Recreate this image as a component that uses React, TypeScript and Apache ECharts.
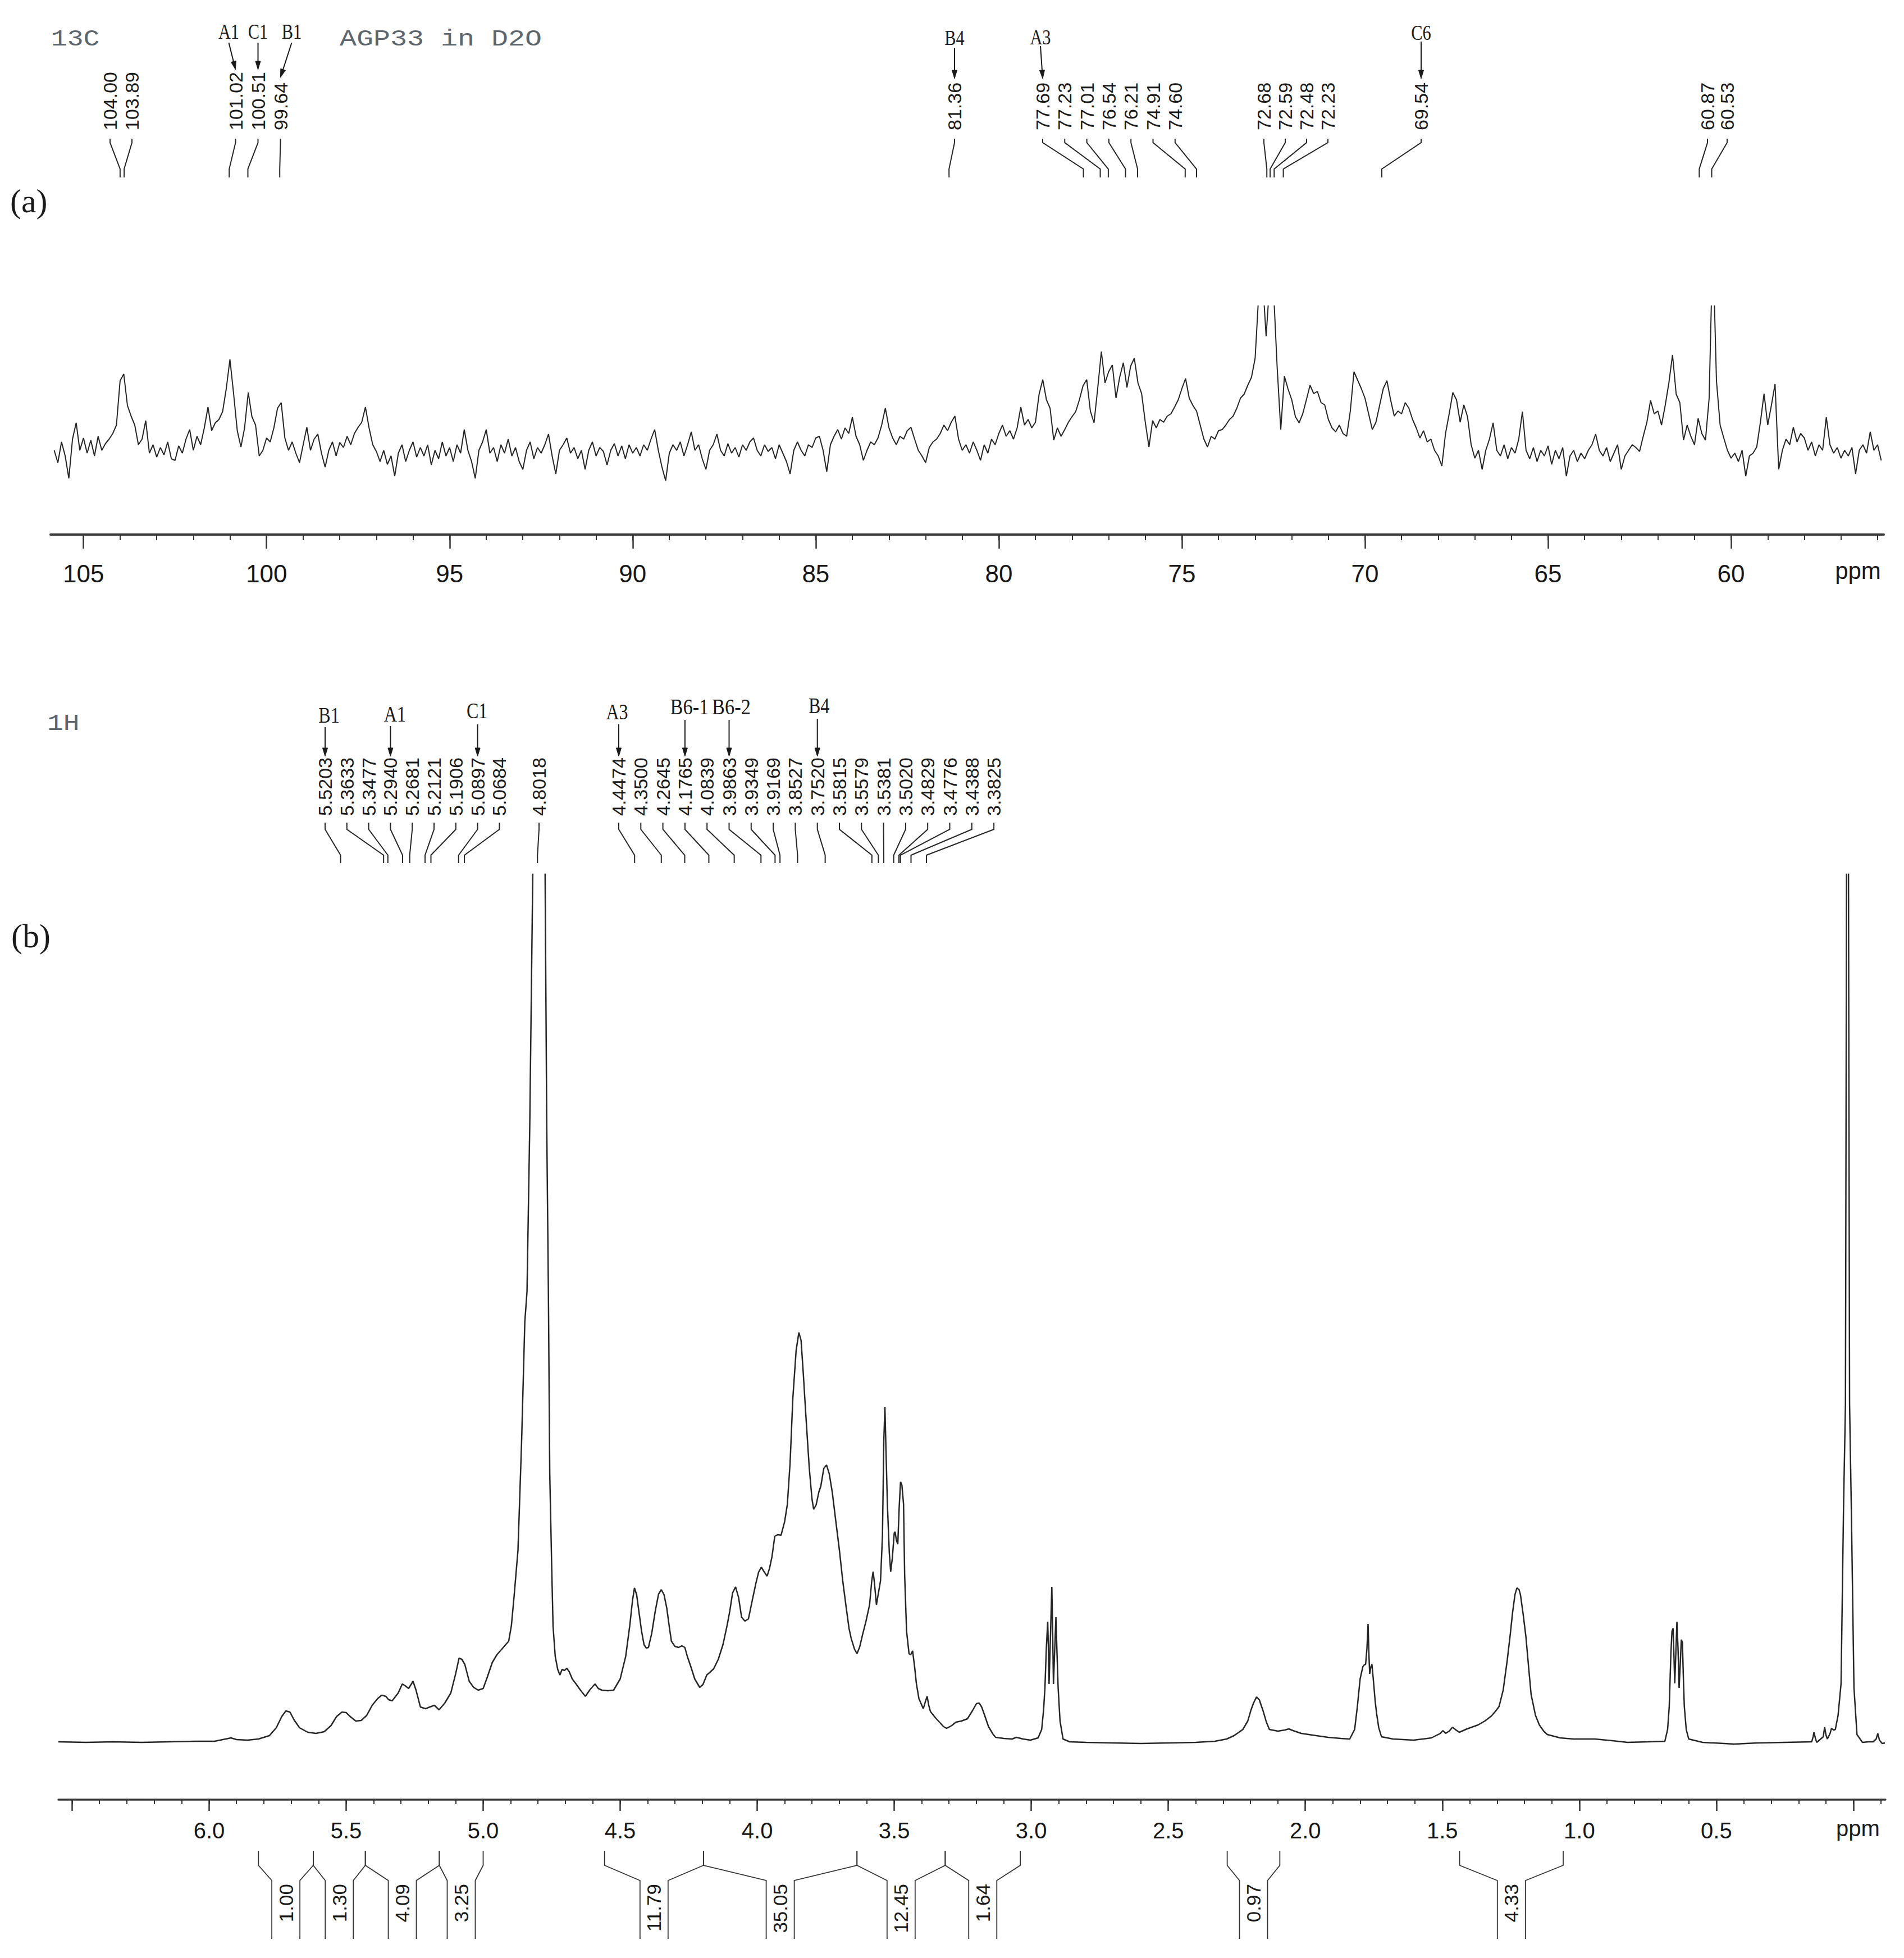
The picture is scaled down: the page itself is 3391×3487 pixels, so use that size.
import React, { useEffect, useRef } from "react";
import * as echarts from "echarts";

// ================= DATA =================
// 13C spectrum (AGP33 in D2O): intensities, one sample per 0.1 ppm,
// starting at 105.8 ppm and running down to 55.9 ppm (axis units: px above the axis line).
const C13_START_PPM = 105.8;
const C13_STEP_PPM = 0.1;
const C13_INTENSITY = [
  150, 128, 165, 140, 100, 170, 199, 150, 172, 145,
  168, 140, 175, 150, 162, 170, 180, 195, 274, 286,
  230, 211, 195, 160, 170, 203, 145, 160, 138, 155,
  142, 165, 135, 132, 158, 145, 170, 187, 150, 175,
  160, 190, 227, 185, 199, 205, 219, 260, 312, 251,
  185, 156, 190, 253, 210, 195, 140, 150, 172, 165,
  190, 225, 235, 172, 150, 165, 145, 128, 160, 191,
  150, 170, 179, 145, 120, 150, 165, 140, 164, 155,
  175, 160, 180, 191, 200, 227, 190, 160, 148, 130,
  150, 125, 140, 104, 145, 160, 130, 150, 165, 138,
  155, 140, 160, 124, 150, 135, 165, 140, 155, 130,
  160, 145, 187, 150, 130, 100, 150, 165, 187, 145,
  155, 130, 160, 145, 170, 140, 155, 130, 116, 150,
  165, 135, 155, 145, 160, 179, 140, 108, 150, 160,
  172, 145, 155, 135, 150, 116, 150, 165, 140, 155,
  148, 124, 150, 162, 140, 158, 135, 160, 145, 155,
  140, 160, 150, 170, 187, 150, 120, 96, 145, 160,
  150, 165, 140, 160, 183, 150, 160, 135, 116, 150,
  160, 179, 150, 140, 162, 145, 155, 138, 160, 150,
  165, 172, 150, 140, 160, 148, 155, 135, 160, 145,
  130, 108, 150, 165, 150, 140, 160, 155, 172, 175,
  150, 112, 160, 175, 187, 170, 190, 180, 209, 175,
  160, 132, 150, 165, 160, 172, 195, 225, 190, 172,
  160, 175, 170, 185, 191, 170, 150, 140, 128, 155,
  165, 170, 180, 195, 185, 200, 211, 170, 150, 160,
  145, 165, 150, 132, 160, 145, 170, 160, 180, 195,
  175, 185, 170, 190, 227, 195, 205, 190, 200, 250,
  276, 240, 225, 168, 190, 175, 187, 200, 210, 219,
  240, 265, 276, 220, 199, 260, 326, 270, 290, 302,
  243, 280, 306, 262, 300, 314, 270, 251, 200, 156,
  203, 190, 205, 200, 211, 215, 227, 240, 260, 278,
  243, 230, 220, 195, 170, 156, 175, 170, 185, 187,
  195, 205, 211, 225, 243, 250, 266, 280, 314, 430,
  460, 353, 450, 440, 300, 187, 282, 259, 240, 210,
  199, 215, 240, 266, 251, 255, 235, 231, 205, 190,
  183, 195, 180, 175, 220, 290, 275, 260, 243, 215,
  187, 200, 230, 260, 274, 240, 211, 220, 215, 235,
  225, 205, 190, 172, 185, 165, 170, 150, 140, 122,
  180, 215, 253, 240, 200, 231, 210, 160, 136, 150,
  116, 150, 170, 199, 150, 140, 160, 135, 155, 145,
  170, 219, 150, 135, 155, 130, 150, 140, 158, 125,
  150, 135, 155, 104, 140, 150, 130, 145, 135, 150,
  160, 179, 150, 140, 155, 130, 145, 160, 116, 140,
  150, 160, 155, 148, 175, 200, 239, 215, 220, 195,
  230, 270, 320, 250, 235, 168, 195, 175, 160, 207,
  180, 168, 243, 520, 274, 195, 172, 150, 136, 145,
  130, 150, 104, 140, 145, 156, 200, 251, 195, 230,
  268, 116, 150, 170, 160, 191, 165, 180, 172, 150,
  165, 140, 160, 150, 209, 160, 145, 155, 136, 150,
  140, 155, 108, 150, 160, 145, 183, 150, 160, 132,
];

const C13_PEAKS = [104.0, 103.89, 101.02, 100.51, 99.64, 81.36, 77.69, 77.23, 77.01, 76.54, 76.21, 74.91, 74.6, 72.68, 72.59, 72.48, 72.23, 69.54, 60.87, 60.53];
const C13_ASSIGN_NAMES = ["A1", "C1", "B1", "B4", "A3", "C6"];
const C13_ASSIGN_PEAKS = [101.02, 100.51, 99.64, 81.36, 77.69, 69.54];
const C13_TICK_LABELS = [60, 65, 70, 75, 80, 85, 90, 95, 100, 105];

// 1H spectrum: [ppm, intensity] vertices
const H1_POINTS: [number, number][] = [
  [6.55, 103], [6.45, 102], [6.35, 103], [6.25, 102], [6.15, 103], [6.05, 104], [5.98, 104], [5.94, 108], [5.92, 110], [5.9, 107],
  [5.86, 106], [5.82, 108], [5.78, 114], [5.755, 128], [5.735, 148], [5.72, 158], [5.705, 156], [5.69, 142], [5.67, 128], [5.64, 120],
  [5.61, 118], [5.58, 121], [5.555, 132], [5.535, 148], [5.515, 156], [5.5, 155], [5.485, 148], [5.465, 140], [5.445, 141], [5.425, 150],
  [5.405, 168], [5.385, 180], [5.37, 186], [5.355, 184], [5.345, 178], [5.332, 176], [5.31, 190], [5.295, 206], [5.285, 203], [5.272, 198],
  [5.262, 206], [5.256, 211], [5.245, 195], [5.229, 165], [5.21, 162], [5.195, 165], [5.178, 168], [5.161, 160], [5.14, 172], [5.118, 190],
  [5.1, 225], [5.088, 252], [5.078, 250], [5.067, 241], [5.051, 211], [5.035, 200], [5.018, 195], [5.0, 198], [4.985, 218], [4.967, 244],
  [4.95, 258], [4.932, 268], [4.918, 276], [4.907, 282], [4.897, 310], [4.887, 363], [4.873, 444], [4.86, 634], [4.848, 851], [4.84, 905],
  [4.83, 1200], [4.819, 1648], [4.81, 2400], [4.8, 3000], [4.79, 2400], [4.774, 1648], [4.768, 1200], [4.762, 905], [4.757, 580], [4.75, 417],
  [4.745, 309], [4.737, 255], [4.728, 232], [4.72, 222], [4.712, 232], [4.703, 230], [4.695, 234], [4.686, 228], [4.675, 215], [4.661, 206],
  [4.645, 195], [4.627, 184], [4.61, 196], [4.592, 206], [4.58, 198], [4.567, 195], [4.545, 194], [4.524, 195], [4.5, 215], [4.48, 255],
  [4.465, 310], [4.455, 355], [4.448, 377], [4.44, 365], [4.432, 336], [4.422, 300], [4.413, 276], [4.405, 270], [4.397, 271], [4.385, 296],
  [4.372, 336], [4.36, 366], [4.35, 374], [4.34, 365], [4.33, 341], [4.32, 305], [4.313, 282], [4.3, 273], [4.287, 271], [4.275, 274],
  [4.264, 271], [4.255, 255], [4.243, 238], [4.228, 215], [4.21, 200], [4.198, 205], [4.184, 222], [4.17, 228], [4.159, 233], [4.142, 250],
  [4.125, 276], [4.11, 310], [4.1, 336], [4.09, 368], [4.079, 379], [4.068, 360], [4.057, 325], [4.045, 318], [4.032, 322], [4.018, 355],
  [4.005, 385], [3.995, 405], [3.985, 414], [3.975, 406], [3.964, 398], [3.955, 412], [3.946, 433], [3.936, 469], [3.925, 472], [3.913, 471],
  [3.9, 495], [3.89, 526], [3.88, 600], [3.87, 715], [3.858, 800], [3.848, 832], [3.84, 818], [3.832, 760], [3.823, 688], [3.81, 590],
  [3.8, 535], [3.794, 517], [3.785, 525], [3.775, 548], [3.768, 558], [3.757, 590], [3.747, 596], [3.737, 580], [3.726, 547], [3.713, 495],
  [3.7, 444], [3.688, 390], [3.675, 341], [3.665, 305], [3.657, 287], [3.645, 268], [3.636, 260], [3.626, 272], [3.616, 293], [3.603, 318],
  [3.59, 347], [3.582, 390], [3.577, 406], [3.572, 385], [3.565, 347], [3.557, 370], [3.55, 390], [3.543, 470], [3.538, 640], [3.534, 699],
  [3.53, 620], [3.525, 526], [3.518, 440], [3.513, 406], [3.507, 430], [3.5, 475], [3.497, 477], [3.492, 462], [3.487, 455], [3.482, 520],
  [3.477, 566], [3.472, 560], [3.466, 526], [3.462, 400], [3.455, 300], [3.446, 260], [3.44, 258], [3.433, 265], [3.426, 238], [3.419, 206],
  [3.41, 180], [3.394, 162], [3.386, 175], [3.38, 184], [3.374, 168], [3.368, 157], [3.35, 146], [3.335, 138], [3.32, 130], [3.309, 127],
  [3.29, 132], [3.275, 138], [3.255, 140], [3.233, 144], [3.215, 158], [3.2, 171], [3.19, 172], [3.181, 165], [3.17, 150], [3.156, 130],
  [3.14, 117], [3.13, 111], [3.1, 109], [3.07, 108], [3.054, 111], [3.03, 108], [3.003, 106], [2.975, 110], [2.962, 125], [2.955, 160],
  [2.95, 200], [2.945, 270], [2.94, 317], [2.937, 260], [2.935, 206], [2.93, 290], [2.925, 379], [2.922, 300], [2.919, 206], [2.915, 260],
  [2.91, 325], [2.906, 260], [2.902, 200], [2.895, 140], [2.884, 108], [2.86, 103], [2.8, 102], [2.7, 101], [2.6, 100], [2.5, 101],
  [2.4, 102], [2.33, 104], [2.287, 108], [2.26, 114], [2.228, 125], [2.21, 140], [2.198, 160], [2.189, 172], [2.178, 183], [2.168, 178],
  [2.154, 158], [2.142, 138], [2.131, 125], [2.1, 122], [2.075, 124], [2.06, 126], [2.045, 123], [2.015, 118], [1.96, 114], [1.917, 111],
  [1.87, 109], [1.838, 108], [1.82, 125], [1.81, 166], [1.8, 215], [1.79, 237], [1.785, 240], [1.78, 241], [1.775, 270], [1.771, 313],
  [1.768, 260], [1.765, 224], [1.761, 236], [1.757, 241], [1.752, 215], [1.745, 175], [1.74, 154], [1.732, 128], [1.722, 112], [1.68, 108],
  [1.605, 106], [1.54, 110], [1.507, 118], [1.498, 123], [1.488, 118], [1.475, 122], [1.463, 129], [1.45, 124], [1.438, 120], [1.41, 126],
  [1.37, 133], [1.345, 140], [1.321, 149], [1.305, 158], [1.293, 166], [1.278, 195], [1.263, 249], [1.252, 295], [1.244, 332], [1.235, 365],
  [1.228, 377], [1.22, 374], [1.215, 365], [1.205, 330], [1.195, 290], [1.185, 235], [1.176, 187], [1.16, 150], [1.146, 133], [1.13, 122],
  [1.117, 116], [1.07, 110], [1.02, 108], [0.943, 108], [0.88, 105], [0.824, 102], [0.75, 103], [0.688, 104], [0.678, 125], [0.672, 166],
  [0.666, 260], [0.662, 300], [0.658, 305], [0.655, 260], [0.652, 207], [0.648, 260], [0.644, 317], [0.64, 270], [0.636, 199], [0.632, 240],
  [0.628, 285], [0.624, 280], [0.62, 210], [0.617, 166], [0.61, 125], [0.601, 108], [0.55, 102], [0.435, 99], [0.35, 101], [0.25, 102],
  [0.152, 103], [0.147, 112], [0.144, 120], [0.139, 110], [0.134, 102], [0.11, 112], [0.105, 129], [0.1, 115], [0.095, 108], [0.085, 118],
  [0.08, 127], [0.072, 124], [0.066, 125], [0.056, 150], [0.045, 207], [0.036, 520], [0.029, 705], [0.025, 1648], [0.0215, 2600], [0.018, 1648],
  [0.014, 705], [0.007, 500], [-0.002, 200], [-0.013, 116], [-0.033, 102], [-0.055, 103], [-0.072, 103], [-0.083, 108], [-0.089, 118], [-0.095, 106],
  [-0.105, 100], [-0.115, 101],
];

const H1_PEAKS = [5.5203, 5.3633, 5.3477, 5.294, 5.2681, 5.2121, 5.1906, 5.0897, 5.0684, 4.8018, 4.4474, 4.35, 4.2645, 4.1765, 4.0839, 3.9863, 3.9349, 3.9169, 3.8527, 3.752, 3.5815, 3.5579, 3.5381, 3.502, 3.4829, 3.4776, 3.4388, 3.3825];
const H1_ASSIGN_NAMES = ["B1", "A1", "C1", "A3", "B6-1", "B6-2", "B4"];
const H1_ASSIGN_PEAKS = [5.5203, 5.294, 5.0897, 4.4474, 4.1765, 3.9863, 3.752];
const H1_TICK_LABELS = [0.5, 1.0, 1.5, 2.0, 2.5, 3.0, 3.5, 4.0, 4.5, 5.0, 5.5, 6.0];
const H1_MAJOR_TICKS = [0, 0.5, 1.0, 1.5, 2.0, 2.5, 3.0, 3.5, 4.0, 4.5, 5.0, 5.5, 6.0, 6.5];

// integrals
const INT_FROM = [5.82, 5.62, 5.43, 5.16, 4.557, 4.196, 3.636, 3.314, 2.285, 1.437];
const INT_TO = [5.62, 5.43, 5.16, 5.0, 4.196, 3.636, 3.314, 3.04, 2.093, 1.059];
const INT_VALUES = ["1.00", "1.30", "4.09", "3.25", "11.79", "35.05", "12.45", "1.64", "0.97", "4.33"];

// ================= LAYOUT =================
const W = 3391;
const H = 3487;
const G13 = { left: 90, top: 545, width: 3265, height: 407, xMin: 55.83, xMax: 105.9, yMax: 407 };
const G1H = { left: 104, top: 1557, width: 3254, height: 1648, xMin: -0.117, xMax: 6.55, yMax: 1648 };

// label slot groups: [first slot x, step, count]
const C13_SLOT_GROUPS: [number, number, number][] = [[196, 39, 2], [419.5, 40, 3], [1700, 0, 1], [1857, 39.3, 7], [2251, 38, 4], [2531, 0, 1], [3041, 35, 2]];
const H1_SLOT_GROUPS: [number, number, number][] = [[579, 38.8, 9], [960, 0, 1], [1102, 39.3, 18]];
const C13_LEAD = { textBottom: 232, top: 247, k1: 254, k2: 301, bottom: 316 };
const H1_LEAD = { textBottom: 1453, top: 1465, k1: 1477, k2: 1523, bottom: 1537 };
// assignment labels: dx from slot, text centre y, arrow start y, arrow tip y
const C13_ASSIGN_LAYOUT = [[-12, 56, 76, 124], [0, 56, 76, 124], [20, 56, 76, 138], [0, 67, 86, 140], [-4, 66, 82, 140], [0, 58, 74, 140]];
const H1_ASSIGN_LAYOUT = [[7, 1274, 1295, 1347], [8, 1272, 1293, 1347], [-1, 1266, 1290, 1347], [-3, 1268, 1290, 1347], [8, 1259, 1282, 1347], [4, 1259, 1282, 1347], [3, 1257, 1280, 1347]];
const INT_Y = { top: 3296, k1: 3322, k2: 3349, bottom: 3453, textTop: 3355, half: 25 };

const FONT_SANS = "'Liberation Sans', Arial, Helvetica, sans-serif";
const FONT_SERIF = "'Liberation Serif', 'Times New Roman', serif";
const FONT_MONO = "'Liberation Mono', 'Courier New', monospace";
const INK = "#1a1a1a";
const LINE = "#262626";
const GREY_TEXT = "#5c666c";

function expandSlots(groups: [number, number, number][]) {
  const out: number[] = [];
  groups.forEach(([s, st, n]) => {
    for (let i = 0; i < n; i++) out.push(s + i * st);
  });
  return out;
}

function txt(x: number, y: number, s: string, font: string, o: any = {}) {
  const align = o.align || "left";
  const valign = o.valign || "middle";
  return {
    type: "text",
    x,
    y,
    rotation: o.rotation || 0,
    scaleX: o.scaleX ?? 1,
    scaleY: o.scaleY ?? 1,
    z: 20,
    silent: true,
    style: {
      text: s,
      x: 0,
      y: 0,
      font,
      fill: o.fill || INK,
      textAlign: align,
      textVerticalAlign: valign,
      align,
      verticalAlign: valign,
    },
  };
}

function poly(points: number[][], width = 2, color = LINE) {
  return {
    type: "polyline",
    z: 15,
    silent: true,
    shape: { points },
    style: { stroke: color, lineWidth: width, fill: "none" },
  };
}

function arrow(x1: number, y1: number, x2: number, y2: number) {
  const dx = x2 - x1;
  const dy = y2 - y1;
  const len = Math.sqrt(dx * dx + dy * dy) || 1;
  const ux = dx / len;
  const uy = dy / len;
  const bx = x2 - ux * 15;
  const by = y2 - uy * 15;
  const nx = -uy * 4.5;
  const ny = ux * 4.5;
  return [
    { type: "line", z: 15, silent: true, shape: { x1, y1, x2: bx, y2: by }, style: { stroke: INK, lineWidth: 2 } },
    {
      type: "polygon",
      z: 15,
      silent: true,
      shape: { points: [[x2, y2], [bx + nx, by + ny], [bx - nx, by - ny]] },
      style: { fill: INK, stroke: INK, lineWidth: 1 },
    },
  ];
}

export default function App() {
  const ref = useRef<HTMLDivElement>(null);

  useEffect(() => {
    document.body.style.margin = "0";
    document.body.style.background = "#ffffff";
    if (!ref.current) return;
    const chart = echarts.init(ref.current, null, { renderer: "svg" });

    const c13Data = C13_INTENSITY.map((v, i) => [Number((C13_START_PPM - i * C13_STEP_PPM).toFixed(2)), v]);
    const c13Minor: number[] = [];
    for (let p = 56; p <= 105; p++) c13Minor.push(p);
    const h1Minor: number[] = [];
    for (let i = -1; i <= 65; i++) h1Minor.push(Number((i / 10).toFixed(1)));

    const option: any = {
      animation: false,
      backgroundColor: "#ffffff",
      grid: [
        { left: G13.left, top: G13.top, width: G13.width, height: G13.height, containLabel: false, outerBoundsMode: "none" },
        { left: G1H.left, top: G1H.top, width: G1H.width, height: G1H.height, containLabel: false, outerBoundsMode: "none" },
      ],
      xAxis: [
        {
          gridIndex: 0,
          type: "value",
          min: G13.xMin,
          max: G13.xMax,
          inverse: true,
          position: "bottom",
          axisLine: { show: true, lineStyle: { color: "#3a3a3a", width: 4 } },
          axisTick: { show: true, customValues: C13_TICK_LABELS, length: 25, lineStyle: { color: "#333", width: 2.5 } },
          axisLabel: {
            show: true,
            customValues: C13_TICK_LABELS,
            formatter: (v: number) => String(Math.round(v)),
            margin: 47,
            fontSize: 44,
            fontFamily: FONT_SANS,
            color: "#161616",
          },
          splitLine: { show: false },
        },
        {
          gridIndex: 0,
          type: "value",
          min: G13.xMin,
          max: G13.xMax,
          inverse: true,
          position: "bottom",
          axisLine: { show: false },
          axisTick: { show: true, customValues: c13Minor, length: 10, lineStyle: { color: "#333", width: 2 } },
          axisLabel: { show: false, customValues: c13Minor },
          splitLine: { show: false },
        },
        {
          gridIndex: 1,
          type: "value",
          min: G1H.xMin,
          max: G1H.xMax,
          inverse: true,
          position: "bottom",
          axisLine: { show: true, lineStyle: { color: "#3a3a3a", width: 3.5 } },
          axisTick: { show: true, customValues: H1_MAJOR_TICKS, length: 20, lineStyle: { color: "#333", width: 2.5 } },
          axisLabel: {
            show: true,
            customValues: H1_TICK_LABELS,
            formatter: (v: number) => v.toFixed(1),
            margin: 35,
            fontSize: 40,
            fontFamily: FONT_SANS,
            color: "#161616",
          },
          splitLine: { show: false },
        },
        {
          gridIndex: 1,
          type: "value",
          min: G1H.xMin,
          max: G1H.xMax,
          inverse: true,
          position: "bottom",
          axisLine: { show: false },
          axisTick: { show: true, customValues: h1Minor, length: 8, lineStyle: { color: "#333", width: 2 } },
          axisLabel: { show: false, customValues: h1Minor },
          splitLine: { show: false },
        },
      ],
      yAxis: [
        { gridIndex: 0, type: "value", min: 0, max: G13.yMax, show: false },
        { gridIndex: 1, type: "value", min: 0, max: G1H.yMax, show: false },
      ],
      series: [
        {
          type: "line",
          name: "13C",
          xAxisIndex: 0,
          yAxisIndex: 0,
          data: c13Data,
          showSymbol: false,
          symbol: "none",
          clip: true,
          lineStyle: { color: LINE, width: 2 },
        },
        {
          type: "line",
          name: "1H",
          xAxisIndex: 2,
          yAxisIndex: 1,
          data: H1_POINTS,
          showSymbol: false,
          symbol: "none",
          clip: true,
          lineStyle: { color: LINE, width: 2.5 },
        },
      ],
    };
    chart.setOption(option);

    const px13 = (v: number) => chart.convertToPixel({ xAxisIndex: 0 }, v) as unknown as number;
    const px1H = (v: number) => chart.convertToPixel({ xAxisIndex: 2 }, v) as unknown as number;

    const els: any[] = [];

    // headings
    els.push(txt(91, 70, "13C", `40px ${FONT_MONO}`, { scaleX: 1.2, fill: GREY_TEXT }));
    els.push(txt(605, 70, "AGP33 in D2O", `40px ${FONT_MONO}`, { scaleX: 1.25, fill: GREY_TEXT }));
    els.push(txt(84, 1289, "1H", `40px ${FONT_MONO}`, { scaleX: 1.2, fill: GREY_TEXT }));
    els.push(txt(18, 358, "(a)", `60px ${FONT_SERIF}`));
    els.push(txt(20, 1667, "(b)", `60px ${FONT_SERIF}`));
    els.push(txt(3309, 1016, "ppm", `42px ${FONT_SANS}`, { align: "center" }));
    els.push(txt(3309, 3256, "ppm", `40px ${FONT_SANS}`, { align: "center" }));

    // 13C peak labels and leaders
    const s13 = expandSlots(C13_SLOT_GROUPS);
    C13_PEAKS.forEach((p, i) => {
      const sx = s13[i];
      const pxp = px13(p);
      els.push(txt(sx, C13_LEAD.textBottom, p.toFixed(2), `34px ${FONT_SANS}`, { rotation: Math.PI / 2 }));
      els.push(poly([[sx, C13_LEAD.top], [sx, C13_LEAD.k1], [pxp, C13_LEAD.k2], [pxp, C13_LEAD.bottom]]));
    });
    C13_ASSIGN_NAMES.forEach((name, k) => {
      const idx = C13_PEAKS.indexOf(C13_ASSIGN_PEAKS[k]);
      const sx = s13[idx];
      const [dx, ty, ay, tip] = C13_ASSIGN_LAYOUT[k];
      els.push(txt(sx + dx, ty, name, `38px ${FONT_SERIF}`, { align: "center", scaleX: 0.8 }));
      els.push(...arrow(sx + dx, ay, sx, tip));
    });

    // 1H peak labels and leaders
    const s1 = expandSlots(H1_SLOT_GROUPS);
    H1_PEAKS.forEach((p, i) => {
      const sx = s1[i];
      const pxp = px1H(p);
      els.push(txt(sx, H1_LEAD.textBottom, p.toFixed(4), `34px ${FONT_SANS}`, { rotation: Math.PI / 2 }));
      els.push(poly([[sx, H1_LEAD.top], [sx, H1_LEAD.k1], [pxp, H1_LEAD.k2], [pxp, H1_LEAD.bottom]]));
    });
    H1_ASSIGN_NAMES.forEach((name, k) => {
      const idx = H1_PEAKS.indexOf(H1_ASSIGN_PEAKS[k]);
      const sx = s1[idx];
      const [dx, ty, ay, tip] = H1_ASSIGN_LAYOUT[k];
      const sc = name.length > 2 ? 0.86 : 0.8;
      els.push(txt(sx + dx, ty, name, `40px ${FONT_SERIF}`, { align: "center", scaleX: sc }));
      els.push(...arrow(sx, ay, sx, tip));
    });

    // integrals
    INT_FROM.forEach((from, k) => {
      const xa = px1H(from);
      const xb = px1H(INT_TO[k]);
      const c = (xa + xb) / 2;
      const la = c - INT_Y.half;
      const lb = c + INT_Y.half;
      els.push(poly([[xa, INT_Y.top], [xa, INT_Y.k1], [la, INT_Y.k2], [la, INT_Y.bottom]], 1.8, "#333"));
      els.push(poly([[xb, INT_Y.top], [xb, INT_Y.k1], [lb, INT_Y.k2], [lb, INT_Y.bottom]], 1.8, "#333"));
      els.push(txt(c, INT_Y.textTop, INT_VALUES[k], `35px ${FONT_SANS}`, { rotation: Math.PI / 2, align: "right" }));
    });

    chart.setOption({ graphic: els });

    return () => {
      chart.dispose();
    };
  }, []);

  return <div ref={ref} style={{ width: W, height: H, background: "#ffffff" }} />;
}
